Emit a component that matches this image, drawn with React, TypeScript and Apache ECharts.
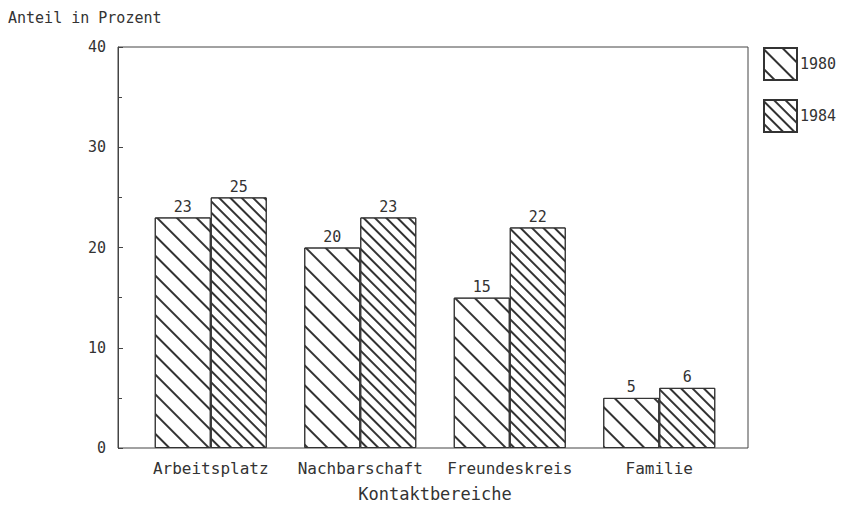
import React, { useEffect, useRef } from "react";
import * as echarts from "echarts";

const categories = ["Arbeitsplatz", "Nachbarschaft", "Freundeskreis", "Familie"];
const values1980 = [23, 20, 15, 5];
const values1984 = [25, 23, 22, 6];
const seriesNames = ["1980", "1984"];
const yTicks = [0, 10, 20, 30, 40];

const FONT = "DejaVu Sans Mono";
const INK = "#333";

export default function App() {
  const ref = useRef<HTMLDivElement>(null);
  useEffect(() => {
    if (!ref.current) return;
    document.body.style.margin = "0";
    const chart = echarts.init(ref.current, null, { renderer: "svg" });
    const decal1980 = {
      symbol: "rect",
      symbolSize: 1,
      color: INK,
      backgroundColor: "transparent",
      dashArrayX: [1, 0],
      dashArrayY: [1.3, 11.5],
      rotation: Math.PI / 4,
    };
    const decal1984 = {
      symbol: "rect",
      symbolSize: 1,
      color: INK,
      backgroundColor: "transparent",
      dashArrayX: [1, 0],
      dashArrayY: [1.3, 5.2],
      rotation: Math.PI / 4,
    };
    chart.setOption({
      animation: false,
      backgroundColor: "#fff",
      textStyle: { fontFamily: FONT, color: INK },
      grid: [
        { left: 118, right: 98, top: 47, bottom: 60, show: true, borderColor: "#444", borderWidth: 1, backgroundColor: "transparent" },
        { left: 136, right: 112, top: 47, bottom: 60 },
      ],
      xAxis: [
        { gridIndex: 0, type: "value", show: false, min: 0, max: 1 },
        {
          gridIndex: 1,
          type: "category",
          data: categories,
          axisLine: { show: false },
          axisTick: { show: false },
          axisLabel: { interval: 0, fontFamily: FONT, fontSize: 16, color: INK, margin: 12 },
          name: "Kontaktbereiche",
          nameLocation: "middle",
          nameGap: 37,
          nameTextStyle: { fontFamily: FONT, fontSize: 17, color: INK },
        },
      ],
      yAxis: [
        {
          gridIndex: 0,
          type: "value",
          min: yTicks[0],
          max: yTicks[yTicks.length - 1],
          interval: 10,
          axisLine: { show: true, lineStyle: { color: "#444" } },
          axisTick: { show: true, inside: true, length: 5, lineStyle: { color: "#444" } },
          minorTick: { show: true, splitNumber: 2, length: 4, lineStyle: { color: "#444" } },
          splitLine: { show: false },
          axisLabel: { fontFamily: FONT, fontSize: 15, color: INK, margin: 12 },
        },
        { gridIndex: 1, type: "value", min: 0, max: 40, show: false },
      ],
      legend: {
        orient: "vertical",
        left: 763,
        top: 47,
        padding: 0,
        itemWidth: 33,
        itemHeight: 32,
        itemGap: 18,
        icon: "rect",
        textStyle: { fontFamily: FONT, fontSize: 15, color: INK, padding: [0, 0, 0, -2] },
        data: seriesNames,
      },
      graphic: [
        {
          type: "text",
          left: 8,
          top: 10,
          style: { text: "Anteil in Prozent", font: `15px "${FONT}"`, fill: INK },
        },
      ],
      series: [
        {
          name: seriesNames[0],
          type: "bar",
          xAxisIndex: 1,
          yAxisIndex: 1,
          data: values1980,
          barWidth: 56,
          barGap: "0%",
          itemStyle: { color: "#fff", borderColor: INK, borderWidth: 1, decal: decal1980 },
          label: { show: true, position: "top", distance: 3, fontFamily: FONT, fontSize: 15, color: INK },
        },
        {
          name: seriesNames[1],
          type: "bar",
          xAxisIndex: 1,
          yAxisIndex: 1,
          data: values1984,
          barWidth: 56,
          barGap: "0%",
          itemStyle: { color: "#fff", borderColor: INK, borderWidth: 1, decal: decal1984 },
          label: { show: true, position: "top", distance: 3, fontFamily: FONT, fontSize: 15, color: INK },
        },
      ],
    });
    return () => chart.dispose();
  }, []);
  return <div ref={ref} style={{ width: 846, height: 508 }} />;
}
